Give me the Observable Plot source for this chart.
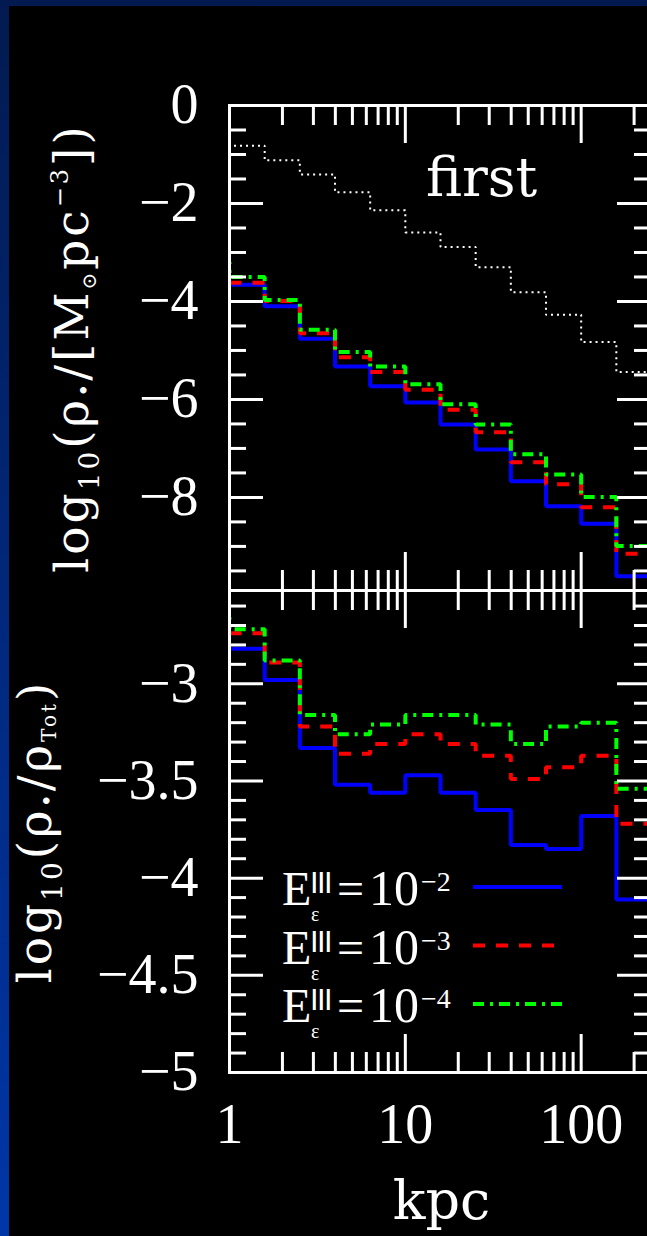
<!DOCTYPE html>
<html><head><meta charset="utf-8">
<script src="https://cdn.jsdelivr.net/npm/d3@7"></script>
<script src="https://cdn.jsdelivr.net/npm/@observablehq/plot@0.6"></script>
<style>
html,body{margin:0;padding:0;width:647px;height:1236px;overflow:hidden;}
body{background:linear-gradient(to bottom,#021a50,#0036a8);position:relative;}
#panel{position:absolute;left:9px;top:6px;width:700px;height:1300px;background:#000;}
#top,#bot{position:absolute;left:0;}
#top{top:0;}
#bot{top:590px;}
svg{overflow:visible;}
</style></head><body>
<div id="panel"></div>
<div id="top"></div><div id="bot"></div>
<script>
// ---------- data ----------
// bin edges in kpc (0.2 dex bins); the first bin lies left of r = 1 and only its edge shows
const rEdges = [0.631, 1, 1.585, 2.512, 3.981, 6.310, 10, 15.85, 25.12, 39.81, 63.10, 100, 158.5, 251.19];
// upper panel: log10(rho*/[Msun pc^-3])
const topTotal = [-0.65, -0.82, -1.12, -1.41, -1.77, -2.14, -2.59, -2.89, -3.30, -3.81, -4.27, -4.83, -5.44];
const topE2 = [null, -3.66, -4.10, -4.76, -5.33, -5.73, -6.06, -6.51, -7.02, -7.67, -8.18, -8.54, -9.61];
const topE3 = [null, -3.62, -3.99, -4.65, -5.14, -5.44, -5.80, -6.21, -6.67, -7.28, -7.73, -8.20, -9.15];
const topE4 = [-3.20, -3.50, -3.97, -4.58, -5.03, -5.33, -5.69, -6.10, -6.51, -7.12, -7.53, -7.99, -8.99];
// lower panel: log10(rho*/rho_Tot)
const botE2 = [null, -2.82, -2.98, -3.33, -3.52, -3.56, -3.47, -3.56, -3.65, -3.83, -3.85, -3.68, -4.11];
const botE3 = [null, -2.74, -2.89, -3.22, -3.36, -3.31, -3.26, -3.31, -3.37, -3.49, -3.43, -3.37, -3.72];
const botE4 = [-2.66, -2.72, -2.88, -3.16, -3.26, -3.21, -3.16, -3.16, -3.21, -3.31, -3.22, -3.20, -3.54];

const xDomain = [1, 251.19];
const topDomain = [-9.9, 0];
const botDomain = [-5, -2.52];
const xLabels = [1, 10, 100];
const xMajor = [10, 100];
const xMinor = [2, 3, 4, 5, 6, 7, 8, 9, 20, 30, 40, 50, 60, 70, 80, 90, 200];
const topLabels = [0, -2, -4, -6, -8];
const topMajor = [-8, -6, -4, -2];
const topMinor = [-9.5, -9, -8.5, -7.5, -7, -6.5, -5.5, -5, -4.5, -3.5, -3, -2.5, -1.5, -1, -0.5];
const botLabels = [-5, -4.5, -4, -3.5, -3];
const botMajor = [-4.5, -4, -3.5, -3];
const botMinor = [-4.9, -4.8, -4.7, -4.6, -4.4, -4.3, -4.2, -4.1, -3.9, -3.8, -3.7, -3.6, -3.4, -3.3, -3.2, -3.1, -2.9, -2.8, -2.7, -2.6];
const seriesExp = ["−2", "−3", "−4"];
const panelName = "first";
const xTitle = "kpc";
const topYTitle = [["log"], ["10", "sub"], ["(ρ"], ["•", "dot"], ["/[M"], ["⊙", "sub2"], ["pc"], ["−3", "sup"], ["])"]];
const botYTitle = [["log"], ["10", "sub"], ["(ρ"], ["•", "dot"], ["/ρ"], ["Tot", "sub3"], [")"]];

// ---------- styles ----------
const ns = "http://www.w3.org/2000/svg";
const W = 660, L = 229, R = 9, FW = W - L - R;
const topH = 590, topMT = 105, topFH = topH - topMT;
const botH = 646, botMB = 164, botFH = botH - botMB;
const lineStyles = [
  {stroke: "#0000ff", strokeWidth: 4},
  {stroke: "#ff0000", strokeWidth: 4, strokeDasharray: "12,11"},
  {stroke: "#00ff00", strokeWidth: 4, strokeDasharray: "11,6,3,6"}
];
const numFmt = d => d === 0 ? "0" : (d < 0 ? "−" : "") + String(Math.abs(d));
const serif = "Liberation Serif";
const serif2 = "DejaVu Serif";
const shifts = {sub: [28, 11], sub2: [20, 8], sub3: [20, 5], sup: [24, -20], dot: [22, 4]};

function steps(vals) {
  const pts = vals.map((v, i) => ({r: rEdges[i], v}));
  pts.push({r: rEdges[vals.length], v: vals[vals.length - 1]});
  return pts;
}
function stepLine(vals, style) {
  return Plot.line(steps(vals), {x: "r", y: "v", curve: "step-after", clip: true, strokeLinejoin: "miter", strokeLinecap: "butt", ...style});
}
function frameMarks(fh, yMinor, yMajor) {
  const w = {stroke: "white", strokeWidth: 3};
  return [
    Plot.tickX(xMinor, {x: d => d, insetBottom: fh - 20, ...w}),
    Plot.tickX(xMinor, {x: d => d, insetTop: fh - 20, ...w}),
    Plot.tickX(xMajor, {x: d => d, insetBottom: fh - 38, ...w}),
    Plot.tickX(xMajor, {x: d => d, insetTop: fh - 38, ...w}),
    Plot.tickY(yMinor, {y: d => d, insetRight: FW - 17, ...w}),
    Plot.tickY(yMinor, {y: d => d, insetLeft: FW - 17, ...w}),
    Plot.tickY(yMajor, {y: d => d, insetRight: FW - 34, ...w}),
    Plot.tickY(yMajor, {y: d => d, insetLeft: FW - 34, ...w}),
    Plot.frame({stroke: "white", strokeWidth: 3})
  ];
}
const plotStyle = {background: "transparent", color: "white", fontFamily: serif, fontSize: "56px", maxWidth: "none", overflow: "visible"};
const joinTitle = parts => parts.map(p => p[0]).join("");

function rich(svg, parts) {
  const str = joinTitle(parts);
  const el = [...svg.querySelectorAll("text")].find(t => t.textContent === str);
  if (!el) return;
  el.textContent = "";
  el.setAttribute("letter-spacing", 3);
  let cur = 0;
  for (const [t, kind] of parts) {
    const ts = document.createElementNS(ns, "tspan");
    const [size, shift] = kind ? shifts[kind] : [null, 0];
    if (shift - cur) ts.setAttribute("dy", shift - cur);
    cur = shift;
    if (size) ts.setAttribute("font-size", size);
    ts.textContent = t;
    el.appendChild(ts);
  }
}

// ---------- upper panel ----------
const topPlot = Plot.plot({
  width: W, height: topH,
  marginTop: topMT, marginBottom: 0, marginLeft: L, marginRight: R,
  style: plotStyle,
  x: {type: "log", domain: xDomain, axis: null, label: null},
  y: {domain: topDomain, label: null},
  marks: [
    stepLine(topTotal, {stroke: "white", strokeWidth: 2, strokeDasharray: "2,4"}),
    stepLine(topE2, lineStyles[0]),
    stepLine(topE3, lineStyles[1]),
    stepLine(topE4, lineStyles[2]),
    ...frameMarks(topFH, topMinor, topMajor),
    Plot.axisY(topLabels, {anchor: "left", tickSize: 0, tickPadding: 31, tickFormat: numFmt, label: null, fill: "white"}),
    Plot.text([panelName], {text: d => d, frameAnchor: "top", lineAnchor: "bottom", textAnchor: "middle", dx: 41, dy: 90, fontSize: 54, fontFamily: serif2, fill: "white"}),
    Plot.text([joinTitle(topYTitle)], {text: d => d, frameAnchor: "left", lineAnchor: "middle", textAnchor: "middle", rotate: -90, dx: -157, fontSize: 47, fontFamily: serif2, fill: "white"})
  ]
});
document.getElementById("top").appendChild(topPlot);
rich(topPlot, topYTitle);

// ---------- lower panel ----------
const botPlot = Plot.plot({
  width: W, height: botH,
  marginTop: 0, marginBottom: botMB, marginLeft: L, marginRight: R,
  style: plotStyle,
  x: {type: "log", domain: xDomain, label: null},
  y: {domain: botDomain, label: null},
  marks: [
    stepLine(botE2, lineStyles[0]),
    stepLine(botE3, lineStyles[1]),
    stepLine(botE4, lineStyles[2]),
    ...frameMarks(botFH, botMinor, botMajor),
    Plot.axisY(botLabels, {anchor: "left", tickSize: 0, tickPadding: 31, tickFormat: numFmt, label: null, fill: "white"}),
    Plot.axisX(xLabels, {anchor: "bottom", tickSize: 0, tickPadding: 31, tickFormat: d => String(d), label: null, fill: "white"}),
    Plot.text([xTitle], {text: d => d, frameAnchor: "bottom", lineAnchor: "bottom", textAnchor: "middle", dx: 1, dy: 146, fontSize: 54, fontFamily: serif2, fill: "white"}),
    Plot.text([joinTitle(botYTitle)], {text: d => d, frameAnchor: "left", lineAnchor: "middle", textAnchor: "middle", rotate: -90, dx: -194, fontSize: 47, fontFamily: serif2, fill: "white"})
  ]
});
document.getElementById("bot").appendChild(botPlot);
rich(botPlot, botYTitle);

// ---------- legend (inside lower panel) ----------
function addText(g, str, x, y, size, extra = {}) {
  const t = document.createElementNS(ns, "text");
  t.setAttribute("x", x); t.setAttribute("y", y);
  t.setAttribute("font-size", size);
  t.setAttribute("font-family", serif);
  t.setAttribute("fill", "white");
  t.setAttribute("text-anchor", "start");
  for (const k in extra) t.setAttribute(k, extra[k]);
  t.textContent = str;
  g.appendChild(t);
}
const leg = document.createElementNS(ns, "g");
leg.setAttribute("aria-label", "legend");
leg.setAttribute("text-anchor", "start");
seriesExp.forEach((e, i) => {
  const by = 315 + i * 58.5;
  addText(leg, "E", 282, by, 48);
  addText(leg, "III", 310, by - 12, 29, {"font-family": "DejaVu Sans", "letter-spacing": -1.5});
  addText(leg, "ε", 311, by + 16, 20);
  addText(leg, "=", 337, by, 48);
  addText(leg, "10", 369, by, 50);
  addText(leg, e, 421, by - 14, 28);
  const ln = document.createElementNS(ns, "line");
  const st = lineStyles[i];
  ln.setAttribute("x1", 473); ln.setAttribute("x2", i === 1 ? 555 : 562);
  ln.setAttribute("y1", by - 18); ln.setAttribute("y2", by - 18);
  ln.setAttribute("stroke", st.stroke);
  ln.setAttribute("stroke-width", st.strokeWidth);
  if (st.strokeDasharray) ln.setAttribute("stroke-dasharray", st.strokeDasharray);
  leg.appendChild(ln);
});
botPlot.appendChild(leg);
</script></body></html>
